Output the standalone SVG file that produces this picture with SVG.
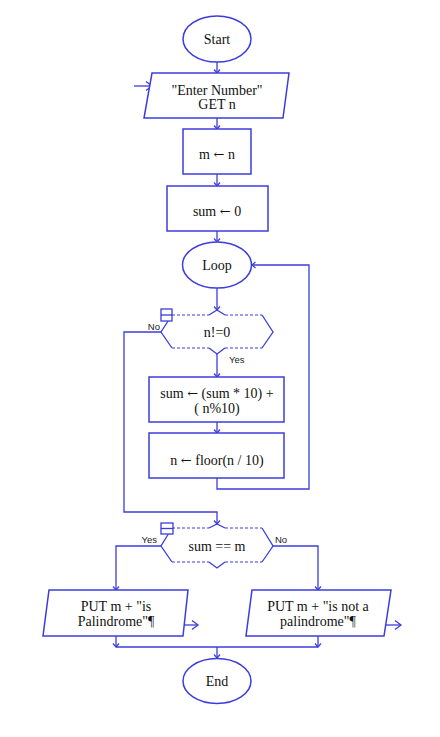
<svg xmlns="http://www.w3.org/2000/svg" width="440" height="737" viewBox="0 0 440 737">
<defs>
<marker id="tip" markerUnits="userSpaceOnUse" markerWidth="10" markerHeight="10" viewBox="-6 -5 10 10" refX="0" refY="0" orient="auto">
<path d="M-3.5,-3 L0,0 L-3.5,3" fill="none" stroke="#3c3cdc" stroke-width="1.2"/>
</marker>
<marker id="big" markerUnits="userSpaceOnUse" markerWidth="14" markerHeight="14" viewBox="-8 -7 14 14" refX="0" refY="0" orient="auto">
<path d="M-6,-4.5 L0,0 L-6,4.5" fill="none" stroke="#3c3cdc" stroke-width="1.3"/>
</marker>
</defs>
<style>
.s{fill:#fff;stroke:#3c3cdc;stroke-width:1.5}
.ln{fill:none;stroke:#3c3cdc;stroke-width:1.3}
.d{fill:none;stroke:#3c3cdc;stroke-width:1.2;stroke-dasharray:3 2}
.t{font-family:"Liberation Serif","Times New Roman",serif;font-size:14px;fill:#111;text-anchor:middle}
.a{font-family:"DejaVu Serif",serif;font-size:13px}
.l{font-family:"Liberation Sans",Arial,sans-serif;font-size:9.5px;fill:#222}
</style>
<rect width="440" height="737" fill="#fff"/>
<g id="connectors">
<path class="ln" d="M217,62 V73" marker-end="url(#tip)"/>
<path class="ln" d="M134,86 H152" marker-end="url(#big)"/>
<path class="ln" d="M217,118 V129" marker-end="url(#tip)"/>
<path class="ln" d="M217,174 V186" marker-end="url(#tip)"/>
<path class="ln" d="M217,231 V242" marker-end="url(#tip)"/>
<path class="ln" d="M217,288 V310" marker-end="url(#tip)"/>
<path class="ln" d="M217,354 V377" marker-end="url(#tip)"/>
<path class="ln" d="M217,422 V433" marker-end="url(#tip)"/>
<path class="ln" d="M217,478 V489 H309 V265 H252" marker-end="url(#tip)"/>
<path class="ln" d="M161,332 H124 V512 H217 V524" marker-end="url(#tip)"/>
<path class="ln" d="M161,546 H116 V590" marker-end="url(#tip)"/>
<path class="ln" d="M273,546 H318 V590" marker-end="url(#tip)"/>
<path class="ln" d="M183,625 H198" marker-end="url(#big)"/>
<path class="ln" d="M384,625 H401" marker-end="url(#big)"/>
<path class="ln" d="M116,636 V647" marker-end="url(#tip)"/>
<path class="ln" d="M318,636 V647" marker-end="url(#tip)"/>
<path class="ln" d="M116,647 H318"/>
<path class="ln" d="M217,647 V658" marker-end="url(#tip)"/>
</g>
<g id="start">
<ellipse class="s" cx="217" cy="39" rx="34" ry="23"/>
<text class="t" x="217" y="44">Start</text>
</g>
<g id="input">
<polygon class="s" points="152,73 289,73 283,118 144,118"/>
<text class="t" x="217" y="95">"Enter Number"</text>
<text class="t" x="217" y="109">GET n</text>
</g>
<g id="assign-m">
<rect class="s" x="183" y="129" width="68" height="45"/>
<text class="t" x="217" y="159">m <tspan class="a">←</tspan> n</text>
</g>
<g id="assign-sum">
<rect class="s" x="167" y="186" width="101" height="45"/>
<text class="t" x="217" y="216">sum <tspan class="a">←</tspan> 0</text>
</g>
<g id="loop">
<ellipse class="s" cx="217" cy="265" rx="34.5" ry="23"/>
<text class="t" x="217" y="270">Loop</text>
</g>
<g id="cond-loop">
<polygon points="161,332 172,315 262,315 273,332 262,348 172,348" fill="#fff"/>
<path class="ln" d="M172,315 L161,332 L172,348 M262,315 L273,332 L262,348"/>
<path class="d" d="M172,315 H209 M225,315 H262 M172,348 H209 M225,348 H262"/>
<path class="ln" d="M209,315 L217,310 L225,315 M209,348 L217,354 L225,348"/>
<rect x="161" y="309" width="11" height="12" fill="#fff" stroke="#3c3cdc" stroke-width="1.3"/>
<path class="ln" d="M161,315 H172"/>
<text class="t" x="217" y="337">n!=0</text>
<text class="l" x="160" y="330" text-anchor="end">No</text>
<text class="l" x="229" y="363">Yes</text>
</g>
<g id="update-sum">
<rect class="s" x="149" y="377" width="135" height="45"/>
<text class="t" x="217" y="398">sum <tspan class="a">←</tspan> (sum * 10) +</text>
<text class="t" x="217" y="413">( n%10)</text>
</g>
<g id="update-n">
<rect class="s" x="149" y="433" width="135" height="45"/>
<text class="t" x="217" y="465">n <tspan class="a">←</tspan> floor(n / 10)</text>
</g>
<g id="cond-pal">
<polygon points="161,546 172,528 262,528 273,546 262,562 172,562" fill="#fff"/>
<path class="ln" d="M172,528 L161,546 L172,562 M262,528 L273,546 L262,562"/>
<path class="d" d="M172,528 H209 M225,528 H262 M172,562 H209 M225,562 H262"/>
<path class="ln" d="M209,528 L217,524 L225,528 M209,562 L217,568 L225,562"/>
<rect x="161" y="523" width="12" height="11" fill="#fff" stroke="#3c3cdc" stroke-width="1.3"/>
<path class="ln" d="M161,528.5 H173"/>
<text class="t" x="217" y="551">sum == m</text>
<text class="l" x="157" y="542.5" text-anchor="end">Yes</text>
<text class="l" x="275" y="542.5">No</text>
</g>
<g id="out-yes">
<polygon class="s" points="49,590 188,590 183,636 43,636"/>
<text class="t" x="116" y="611">PUT m + "is</text>
<text class="t" x="116" y="626">Palindrome"¶</text>
</g>
<g id="out-no">
<polygon class="s" points="252,590 391,590 384,636 246,636"/>
<text class="t" x="318" y="611">PUT m + "is not a</text>
<text class="t" x="318" y="626">palindrome"¶</text>
</g>
<g id="end">
<ellipse class="s" cx="217" cy="681" rx="34" ry="22.5"/>
<text class="t" x="217" y="686">End</text>
</g>
</svg>
